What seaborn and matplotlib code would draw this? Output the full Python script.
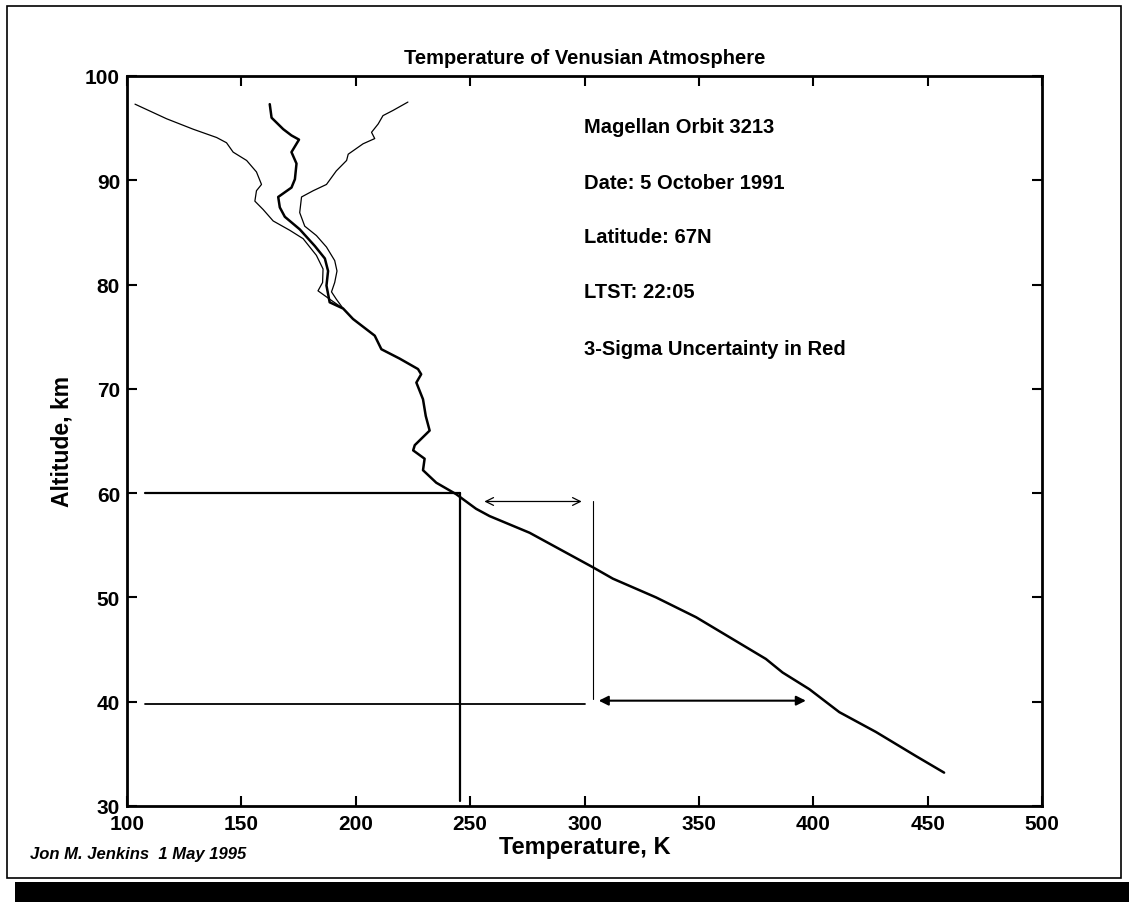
import matplotlib
matplotlib.use("Agg")
import matplotlib.pyplot as plt
from matplotlib.patches import Rectangle
import seaborn as sns
import pandas as pd

# ---- data ----
main_temp = [162.4, 163.2, 168.3, 171.9, 175.2, 171.9, 174.1, 173.4, 171.9, 166.1, 166.8, 169.0,
             175.5, 182.1, 186.5, 187.9, 187.2, 187.9, 188.6, 194.5, 198.8, 208.3, 211.2, 219.2,
             227.2, 228.6, 226.5, 229.4, 230.6, 232.3, 225.8, 225.1, 230.1, 229.4, 235.2, 243.9,
             252.6, 258.5, 276.0, 303.6, 312.4, 331.3, 348.8, 379.3, 386.6, 398.3, 411.4, 427.4,
             444.8, 457.2]
main_alt = [97.3, 96.0, 94.9, 94.3, 93.9, 92.7, 91.6, 90.1, 89.3, 88.4, 87.4, 86.5,
            85.3, 83.7, 82.5, 81.3, 79.9, 79.1, 78.3, 77.7, 76.7, 75.1, 73.8, 72.9,
            71.9, 71.4, 70.6, 69.0, 67.4, 66.0, 64.6, 64.1, 63.3, 62.2, 61.0, 59.9,
            58.5, 57.8, 56.2, 52.9, 51.8, 50.0, 48.1, 44.1, 42.8, 41.2, 39.0, 37.1,
            34.8, 33.2]

low_temp = [103.5, 117.3, 128.9, 139.2, 143.5, 146.4, 152.3, 156.6, 158.8, 156.6, 155.9, 159.5,
            163.9, 171.2, 177.0, 182.8, 185.7, 185.5, 183.5, 188.6, 194.5]
low_alt = [97.3, 95.9, 94.9, 94.1, 93.6, 92.7, 91.9, 90.8, 89.6, 89.0, 88.0, 87.2,
           86.1, 85.2, 84.4, 82.8, 81.5, 80.2, 79.4, 78.6, 77.7]

high_temp = [222.8, 216.3, 211.9, 209.8, 206.9, 208.3, 203.2, 196.7, 196.0, 191.5, 187.2, 181.4,
             176.3, 175.5, 177.7, 182.8, 187.2, 190.8, 191.8, 190.8, 189.4, 191.5, 194.5]
high_alt = [97.5, 96.7, 96.2, 95.4, 94.6, 94.0, 93.5, 92.5, 91.9, 90.9, 89.6, 89.0,
            88.4, 86.9, 85.6, 84.7, 83.6, 82.3, 81.3, 80.2, 79.3, 78.6, 77.7]

ref_alts = [60, 40]          # reference altitudes, km
ref_temps = [245.5, 300.0]   # temperature at the end of the horizontal guides
range_60 = [255.0, 300.0]    # arrow span at 60 km
range_40 = [305.0, 398.0]    # arrow span at 40 km
marker_temp = 303.6

info_lines = ["Magellan Orbit 3213", "Date: 5 October 1991", "Latitude: 67N",
              "LTST: 22:05", "3-Sigma Uncertainty in Red"]
info_alts = [95.2, 89.8, 84.6, 79.3, 73.9]

xticks = [100, 150, 200, 250, 300, 350, 400, 450, 500]
yticks = [30, 40, 50, 60, 70, 80, 90, 100]

# ---- plot ----
sns.set_theme(style="white")
plt.rcParams['font.family'] = ['Liberation Sans', 'DejaVu Sans']
plt.rcParams['font.weight'] = 'bold'
plt.rcParams['text.color'] = 'black'
plt.rcParams['axes.labelcolor'] = 'black'
plt.rcParams['xtick.color'] = 'black'
plt.rcParams['ytick.color'] = 'black'

fig = plt.figure(figsize=(11.29, 9.03), dpi=100)
ax = fig.add_axes([127/1129, 1-807/903, (1042-127)/1129, (807-77)/903])

df_main = pd.DataFrame({"T": main_temp, "alt": main_alt})
df_low = pd.DataFrame({"T": low_temp, "alt": low_alt})
df_high = pd.DataFrame({"T": high_temp, "alt": high_alt})

sns.lineplot(data=df_low, x="T", y="alt", sort=False, estimator=None, color="black", lw=0.9, ax=ax)
sns.lineplot(data=df_high, x="T", y="alt", sort=False, estimator=None, color="black", lw=0.9, ax=ax)
sns.lineplot(data=df_main, x="T", y="alt", sort=False, estimator=None, color="black", lw=1.8, ax=ax)

# guide lines
ax.plot([108, ref_temps[0]], [ref_alts[0], ref_alts[0]], color="black", lw=1.6)
ax.plot([ref_temps[0], ref_temps[0]], [30.5, ref_alts[0]], color="black", lw=1.6)
ax.plot([108, ref_temps[1]], [ref_alts[1] - 0.2, ref_alts[1] - 0.2], color="black", lw=1.3)
ax.plot([marker_temp, marker_temp], [40.3, 59.2], color="black", lw=0.8)

ax.annotate("", xy=(range_60[0], 59.2), xytext=(range_60[1], 59.2),
            arrowprops=dict(arrowstyle="<->", color="black", lw=0.9, mutation_scale=14))
ax.annotate("", xy=(range_40[0], 40.1), xytext=(range_40[1], 40.1),
            arrowprops=dict(arrowstyle="<|-|>", color="black", lw=1.5, mutation_scale=14))

for txt, a in zip(info_lines, info_alts):
    ax.text(300, a, txt, fontsize=14.5, fontweight="bold", va="center", ha="left", color="black")

ax.set_xlim(100, 500)
ax.set_ylim(30, 100)
ax.set_xticks(xticks)
ax.set_yticks(yticks)
ax.set_xticklabels([str(v) for v in xticks], fontsize=15, fontweight="bold")
ax.set_yticklabels([str(v) for v in yticks], fontsize=15, fontweight="bold")
ax.tick_params(direction="in", length=7, width=1.5, top=True, right=True,
               bottom=True, left=True)
ax.tick_params(axis="x", pad=6)
ax.tick_params(axis="y", pad=5)
for s in ax.spines.values():
    s.set_visible(True)
    s.set_color("black")
    s.set_linewidth(2)

ax.set_xlabel("Temperature, K", fontsize=17, fontweight="bold", labelpad=1.5, color="black")
ax.set_ylabel("Altitude, km", fontsize=16.5, fontweight="bold", labelpad=8, color="black")
ax.set_title("Temperature of Venusian Atmosphere", fontsize=14.5, fontweight="bold", pad=9,
             color="black")

fig.text(30/1129, 1-855/903, "Jon M. Jenkins  1 May 1995", fontsize=12, fontweight="bold",
         style="italic", va="center", ha="left", color="black")

# page border and scan shadow
fig.add_artist(Rectangle((7/1129, 1-879/903), (1121-7)/1129, (879-7)/903,
                         transform=fig.transFigure, fill=False, ec="black", lw=1.2))
fig.add_artist(Rectangle((15/1129, 0), 1, 20/903, transform=fig.transFigure,
                         fc="black", ec="none"))

fig.savefig("out.png", dpi=100)
